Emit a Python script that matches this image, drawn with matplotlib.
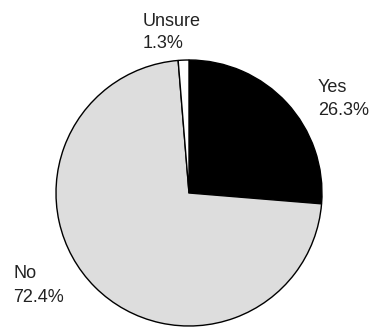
import matplotlib.pyplot as plt

labels = ['Yes', 'No', 'Unsure']
values = [26.3, 72.4, 1.3]
colors = ['#000000', '#dddddd', '#ffffff']

plt.rcParams['font.family'] = ['Liberation Sans', 'DejaVu Sans']

fig = plt.figure(figsize=(3.79, 3.27), dpi=100)
ax = fig.add_axes([0, 0, 1, 1])

ax.pie(values, colors=colors, startangle=90, counterclock=False,
       wedgeprops={'edgecolor': 'black', 'linewidth': 1})

# label anchor (left x, first baseline, second baseline), pie radius = 1
label_pos = [(0.970, 0.759, 0.586), (-1.323, -0.642, -0.817), (-0.346, 1.256, 1.088)]
for lab, val, (x, y1, y2) in zip(labels, values, label_pos):
    ax.text(x, y1, lab, fontsize=13, ha='left', va='baseline', color='#222222')
    ax.text(x, y2, f'{val}%', fontsize=13, ha='left', va='baseline', color='#222222')

ax.set_xlim(-189 / 133, (379 - 189) / 133)
ax.set_ylim(-(327 - 193) / 133, 193 / 133)
ax.set_aspect('auto')
ax.axis('off')

plt.savefig('out.png', dpi=100)
